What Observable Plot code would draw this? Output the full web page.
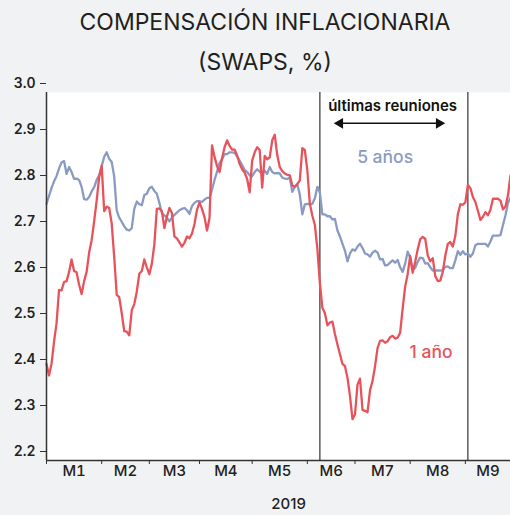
<!DOCTYPE html>
<html>
<head>
<meta charset="utf-8">
<script src="https://cdn.jsdelivr.net/npm/d3@7"></script>
<script src="https://cdn.jsdelivr.net/npm/@observablehq/plot@0.6"></script>
<style>
  html, body { margin: 0; padding: 0; background: #f1f2f4; }
  #wrap { position: relative; width: 510px; height: 515px; background: #f1f2f4; font-family: Inter, "Open Sans", sans-serif; }
  .title { position: absolute; left: 0; width: 530px; text-align: center; font-size: 23px; color: #231f20; line-height: 1; }
  #chart svg { display: block; }
  g[aria-label="y-axis tick label"] text { font-weight: 600; }
  g[aria-label="x-axis tick label"] text { font-weight: 500; }
</style>
</head>
<body>
<div id="wrap">
  <div class="title" style="top:11px">COMPENSACIÓN INFLACIONARIA</div>
  <div class="title" style="top:51px">(SWAPS, %)</div>
  <div id="chart"></div>
</div>
<script>
// Month labels and first trading-day index of each month
const months = ["M1","M2","M3","M4","M5","M6","M7","M8","M9"];
const monthStarts = [0, 22, 41, 61, 82, 104, 123, 145, 167];
const lastDay = 185;
const yTicks = [2.2, 2.3, 2.4, 2.5, 2.6, 2.7, 2.8, 2.9, 3.0];
const meetingDays = [109, 168];

// 5-year inflation swap (%), one value per trading day
const swap5y = [
2.758,2.775,2.792,2.807,2.818,2.835,2.848,2.851,2.823,2.838,
2.827,2.812,2.813,2.810,2.795,2.768,2.767,2.773,2.785,2.794,
2.810,2.820,2.840,2.860,2.870,2.856,2.849,2.817,2.743,2.728,
2.719,2.709,2.702,2.700,2.705,2.747,2.763,2.757,2.755,2.777,
2.780,2.792,2.795,2.786,2.780,2.760,2.738,2.733,2.728,2.720,
2.728,2.734,2.739,2.744,2.747,2.749,2.744,2.736,2.753,2.760,
2.764,2.764,2.762,2.767,2.771,2.771,2.789,2.810,2.828,2.847,
2.855,2.866,2.866,2.870,2.870,2.869,2.861,2.852,2.842,2.832,
2.827,2.820,2.818,2.827,2.833,2.828,2.823,2.830,2.823,2.838,
2.827,2.824,2.825,2.824,2.815,2.813,2.812,2.815,2.784,2.795,
2.800,2.778,2.735,2.757,2.758,2.757,2.758,2.770,2.795,2.782,
2.735,2.735,2.731,2.731,2.724,2.725,2.700,2.687,2.671,2.656,
2.633,2.650,2.659,2.656,2.665,2.671,2.662,2.650,2.648,2.643,
2.652,2.656,2.652,2.637,2.638,2.624,2.625,2.630,2.635,2.630,
2.636,2.620,2.610,2.628,2.654,2.641,2.615,2.619,2.632,2.641,
2.640,2.628,2.629,2.620,2.613,2.613,2.613,2.613,2.614,2.621,
2.622,2.618,2.618,2.635,2.655,2.647,2.655,2.648,2.650,2.643,
2.650,2.668,2.671,2.671,2.671,2.671,2.665,2.676,2.689,2.689,
2.689,2.690,2.712,2.733,2.760,2.772
];

// 1-year inflation swap (%), one value per trading day
const swap1y = [
2.410,2.385,2.410,2.458,2.498,2.571,2.570,2.588,2.590,2.610,
2.637,2.612,2.609,2.582,2.562,2.590,2.610,2.652,2.679,2.720,
2.765,2.816,2.841,2.742,2.752,2.749,2.715,2.642,2.560,2.555,
2.520,2.481,2.480,2.472,2.527,2.540,2.567,2.606,2.612,2.637,
2.620,2.605,2.628,2.670,2.747,2.748,2.742,2.705,2.730,2.749,
2.738,2.687,2.683,2.674,2.665,2.673,2.687,2.683,2.693,2.714,
2.745,2.761,2.747,2.729,2.700,2.727,2.885,2.860,2.840,2.827,
2.857,2.881,2.896,2.884,2.876,2.876,2.863,2.845,2.833,2.826,
2.812,2.783,2.852,2.870,2.881,2.875,2.793,2.862,2.855,2.859,
2.896,2.908,2.864,2.838,2.829,2.824,2.821,2.820,2.798,2.795,
2.801,2.809,2.879,2.875,2.830,2.758,2.732,2.712,2.660,2.585,
2.532,2.520,2.494,2.500,2.502,2.475,2.452,2.431,2.410,2.405,
2.380,2.340,2.290,2.300,2.365,2.378,2.310,2.308,2.305,2.353,
2.373,2.405,2.445,2.460,2.461,2.456,2.459,2.468,2.471,2.465,
2.467,2.478,2.530,2.578,2.605,2.645,2.608,2.632,2.659,2.681,
2.686,2.682,2.646,2.633,2.640,2.601,2.590,2.591,2.610,2.645,
2.671,2.675,2.665,2.688,2.735,2.757,2.756,2.761,2.799,2.792,
2.773,2.762,2.743,2.723,2.730,2.740,2.733,2.745,2.769,2.769,
2.769,2.765,2.746,2.752,2.777,2.820
];

const red = "#e8535b";
const blue = "#8a9bc3";

const s5 = swap5y.map((v, i) => ({day: i, v}));
const s1 = swap1y.map((v, i) => ({day: i, v}));
const bounds = [...monthStarts, lastDay];
const centers = months.map((m, i) => (bounds[i] + bounds[i + 1]) / 2);
const centerLabel = new Map(centers.map((c, i) => [c, months[i]]));

// annotation anchors (data coordinates)
const noteText = {day: 138, v: 2.970};
const arrowY = 2.933, arrowFrom = 117, arrowTo = 156.5;

const plot = Plot.plot({
  width: 510,
  height: 515,
  marginLeft: 46,
  marginRight: 0,
  marginTop: 92,
  marginBottom: 55,
  style: {background: "#f1f2f4", fontFamily: "Inter, 'Open Sans', sans-serif", fontSize: "14px", color: "#231f20"},
  x: {domain: [0, lastDay]},
  y: {domain: [2.2, 3.0]},
  marks: [
    Plot.frame({fill: "white", stroke: null}),
    Plot.ruleX(meetingDays, {y1: 2.2, y2: 3.0, stroke: "#333", strokeWidth: 1.2}),
    Plot.line(s5, {x: "day", y: "v", stroke: blue, strokeWidth: 2.3}),
    Plot.line(s1, {x: "day", y: "v", stroke: red, strokeWidth: 2.3}),
    Plot.ruleY([2.2], {stroke: "#333", strokeWidth: 1.5}),
    Plot.ruleX([0], {y1: 2.2, y2: 3.0, stroke: "#333", strokeWidth: 1.5}),
    Plot.axisY({ticks: yTicks, tickFormat: d3.format(".1f"), tickSize: 6, tickPadding: 5, dy: -9, fontSize: 14, fontWeight: 600, stroke: "#333", label: null}),
    Plot.axisX({ticks: monthStarts, tickSize: 4, tickFormat: () => "", stroke: "#333", label: null}),
    Plot.axisX({ticks: centers, tickSize: 0, tickPadding: 5, tickFormat: d => centerLabel.get(d), fontSize: 15, fontWeight: 500, label: null}),
    Plot.text(["2019"], {x: [96.5], frameAnchor: "bottom", dy: 48, fontSize: 15, fontWeight: 500, fill: "#231f20"}),
    Plot.text(["últimas reuniones"], {x: [noteText.day], y: [noteText.v], fontSize: 15, fontWeight: 600, fill: "#111"}),
    Plot.link([0], {x1: arrowFrom, x2: arrowTo, y1: arrowY, y2: arrowY, stroke: "#111", strokeWidth: 1.5}),
    Plot.dot([{d: arrowFrom, r: -90}, {d: arrowTo, r: 90}], {x: "d", y: () => arrowY, rotate: "r", symbol: "triangle", r: 4, fill: "#111", stroke: null}),
    Plot.text(["5 años"], {x: [135], y: [2.859], fontSize: 17.5, fontWeight: 500, fill: blue}),
    Plot.text(["1 año"], {x: [153.3], y: [2.435], fontSize: 17.5, fontWeight: 500, fill: red})
  ]
});
document.getElementById("chart").appendChild(plot);
</script>
</body>
</html>
